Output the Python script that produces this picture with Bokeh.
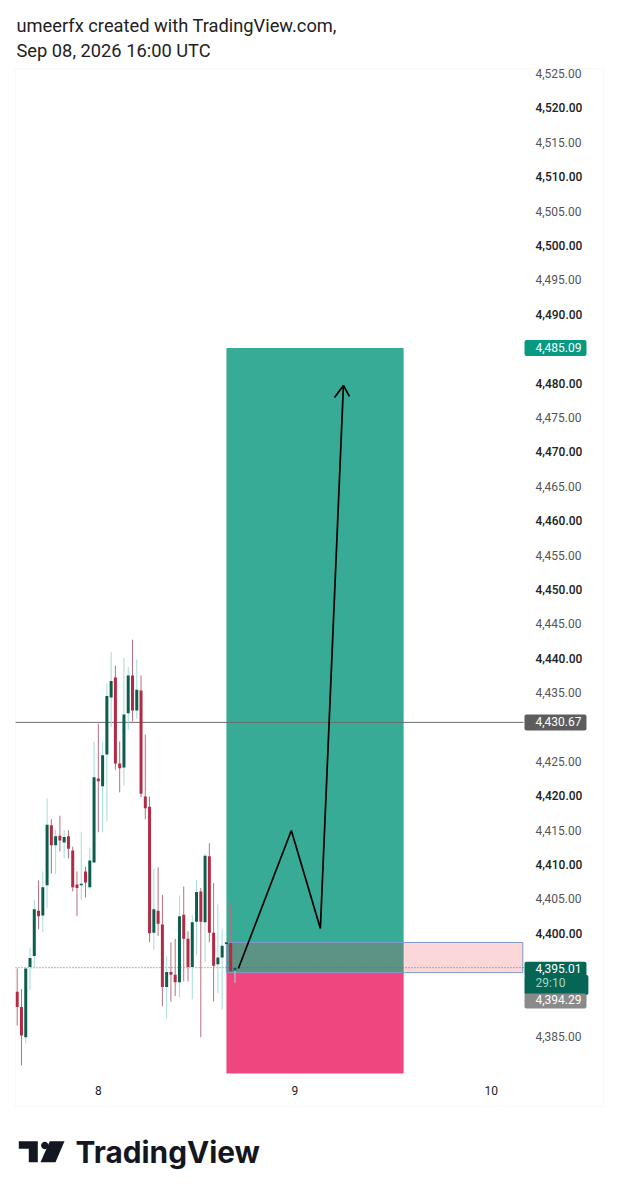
from bokeh.embed import file_html
from bokeh.models import BoxAnnotation, FixedTicker, Label, LinearAxis, NumeralTickFormatter, PolyAnnotation
from bokeh.plotting import figure
from bokeh.resources import INLINE

# 30 min candles
opens = [4391.5, 4389.3, 4384.9, 4395.1, 4396.7, 4403.3, 4402.6, 4407.0, 4415.7, 4412.8,
         4414.2, 4413.2, 4414.1, 4412.05, 4407.1, 4407.0, 4409.0, 4406.7, 4410.3, 4422.5,
         4421.4, 4426.0, 4434.3, 4437.2, 4424.7, 4424.1, 4432.0, 4437.5, 4432.4, 4435.3,
         4419.9, 4418.4, 4400.1, 4403.3, 4401.3, 4392.2, 4394.4, 4394.0, 4392.9, 4402.7,
         4399.2, 4395.1, 4401.7, 4406.1, 4401.6, 4411.2, 4400.1, 4395.5, 4396.5, 4398.4,
         4398.6, 4394.6]
highs = [4394.9, 4391.9, 4394.9, 4397.9, 4404.9, 4407.7, 4409.0, 4419.6, 4416.6, 4415.1,
         4417.1, 4415.0, 4415.0, 4412.6, 4409.0, 4414.7, 4409.7, 4412.5, 4427.9, 4430.5,
         4427.8, 4436.3, 4440.9, 4438.9, 4427.9, 4440.0, 4438.7, 4442.7, 4439.8, 4437.5,
         4428.9, 4419.9, 4409.4, 4409.6, 4405.6, 4396.7, 4398.7, 4399.2, 4405.5, 4406.8,
         4400.3, 4402.7, 4407.8, 4406.6, 4411.6, 4413.1, 4407.3, 4404.2, 4400.6, 4398.7,
         4404.2, 4395.0]
lows = [4386.6, 4380.8, 4384.0, 4391.8, 4394.9, 4400.6, 4400.2, 4403.7, 4408.7, 4408.6,
        4411.9, 4410.9, 4410.9, 4406.1, 4402.5, 4404.8, 4405.2, 4406.4, 4410.3, 4414.7,
        4414.7, 4416.3, 4430.0, 4423.8, 4420.5, 4421.5, 4429.6, 4430.8, 4431.2, 4419.8,
        4416.6, 4398.7, 4397.6, 4399.6, 4389.4, 4387.6, 4390.1, 4390.9, 4390.7, 4393.0,
        4393.0, 4390.4, 4396.9, 4384.9, 4395.8, 4398.7, 4390.1, 4391.3, 4388.9, 4398.3,
        4394.5, 4392.8]
closes = [4389.3, 4385.15, 4394.9, 4396.4, 4403.5, 4402.5, 4406.7, 4415.8, 4412.8, 4414.1,
          4413.5, 4414.0, 4412.3, 4406.7, 4406.6, 4407.2, 4407.4, 4410.6, 4422.7, 4422.1,
          4425.9, 4434.5, 4436.7, 4424.7, 4424.0, 4431.8, 4437.5, 4432.4, 4435.4, 4420.3,
          4418.2, 4400.0, 4403.5, 4401.4, 4392.2, 4394.4, 4394.0, 4392.9, 4402.5, 4399.2,
          4395.1, 4401.6, 4406.0, 4401.7, 4411.3, 4400.1, 4395.3, 4396.5, 4398.2, 4398.7,
          4394.5, 4395.01]

bold_ticks = [4520, 4510, 4500, 4490, 4480, 4470, 4460, 4450, 4440, 4420, 4410, 4400]
light_ticks = [4525, 4515, 4505, 4495, 4475, 4465, 4455, 4445, 4435, 4425, 4415, 4405, 4385]
day_ticks = [19, 65, 111]
day_labels = ["8", "9", "10"]

target_price = 4485.09
entry_price = 4394.29
stop_price = 4379.63
box_top = 4398.67
level_price = 4430.67
last_price = 4395.01
tool_left = 49.0
tool_right = 90.5
box_right = 118.4
pane_left = -0.4
pane_right = 118.57

path_x = [51.8, 64.2, 71.0, 76.4]
path_y = [4394.9, 4414.95, 4400.7, 4479.65]
head_x = [74.3, 76.4, 77.8]
head_y = [4477.9, 4479.65, 4478.05]

FONT = "Roboto"

# annotations get clipped to the frame, so the frame takes the whole page
# and the axes pull their labels back into it with a negative standoff
p = figure(width=610, height=1191, output_backend="svg", toolbar_location=None,
           x_range=(-3.911, 137.54), y_range=(4364.80, 4535.61),
           x_axis_location=None, y_axis_location=None, min_border_left=0, min_border_right=6,
           min_border_top=0, min_border_bottom=16, outline_line_color=None)
p.grid.visible = False


def setup_axis(ax, standoff, font, color):
    ax.axis_line_color = None
    ax.major_tick_line_color = None
    ax.minor_tick_line_color = None
    ax.major_tick_out = 0
    ax.major_tick_in = 0
    ax.minor_tick_out = 0
    ax.major_label_standoff = standoff
    ax.major_label_text_font = font
    ax.major_label_text_font_size = "12px"
    ax.major_label_text_color = color
    ax.major_label_text_font_style = "normal"


y_bold = LinearAxis(ticker=FixedTicker(ticks=bold_ticks), formatter=NumeralTickFormatter(format="0,0.00"))
setup_axis(y_bold, -69, "Roboto Medium", "#222222")
p.add_layout(y_bold, "right")
y_light = LinearAxis(ticker=FixedTicker(ticks=light_ticks), formatter=NumeralTickFormatter(format="0,0.00"))
setup_axis(y_light, -69, FONT, "#555555")
p.add_layout(y_light, "right")
x_days = LinearAxis(ticker=FixedTicker(ticks=day_ticks), major_label_overrides=dict(zip(day_ticks, day_labels)))
setup_axis(x_days, -90, FONT, "#222222")
p.add_layout(x_days, "below")

# position tool
p.quad(left=[tool_left], right=[tool_right], top=[target_price], bottom=[entry_price],
       color="#37ab95", line_color=None)
p.quad(left=[tool_left], right=[tool_right], top=[entry_price], bottom=[stop_price],
       color="#f04680", line_color=None)
p.quad(left=[tool_left], right=[box_right], top=[box_top], bottom=[entry_price],
       fill_color="#f23645", fill_alpha=0.2, line_color="#7f9bc9", line_width=1)

p.line([pane_left, pane_right], [level_price, level_price], color="#6b6b6b", line_width=1)
p.line([pane_left, pane_right], [last_price, last_price], color="#6b6b6b", line_width=1, line_dash="1 2")

# candles
xs = list(range(len(opens)))
up = [i for i in xs if closes[i] >= opens[i]]
down = [i for i in xs if closes[i] < opens[i]]
p.segment([xs[i] for i in up], [highs[i] for i in up], [xs[i] for i in up], [lows[i] for i in up],
          color="#a4dcd7", line_width=1)
p.segment([xs[i] for i in down], [highs[i] for i in down], [xs[i] for i in down], [lows[i] for i in down],
          color="#b5707f", line_width=1)
p.vbar([xs[i] for i in up], 0.7, [opens[i] for i in up], [closes[i] for i in up],
       color="#0b5e4d", line_color=None)
p.vbar([xs[i] for i in down], 0.7, [closes[i] for i in down], [opens[i] for i in down],
       color="#b22a43", line_color=None)

p.line(path_x, path_y, color="#000000", line_width=1.7)
p.line(head_x, head_y, color="#000000", line_width=1.7)


def tag(price, text, bg, color="#ffffff", right_pad=5, top=3, bottom=4):
    # padding is left, right, top, bottom and y is the middle of the box
    p.add_layout(Label(x=524, x_units="canvas", y=price, y_units="data", text=text,
                       text_font=FONT, text_font_size="12px", text_color=color,
                       text_baseline="middle", background_fill_color=bg,
                       padding=(11, right_pad, top, bottom), border_radius=2))


tag(target_price, f"{target_price:,.2f}", "#089981")
tag(level_price, f"{level_price:,.2f}", "#5d5d5d")
tag(4394.79, f"{last_price:,.2f}", "#056656", top=2, bottom=4)
tag(4392.5, "29:10", "#056656", "#a7d4c6", 23, 1, 5)
tag(4390.17, f"{entry_price:,.2f}", "#8a8a8a", top=2, bottom=4)

# page furniture
p.add_layout(BoxAnnotation(left=15, right=603, top=68, bottom=1106, left_units="canvas",
                           right_units="canvas", top_units="canvas", bottom_units="canvas",
                           fill_alpha=0, line_color="#ececec", line_width=1))
for text, y in [("umeerfx created with TradingView.com,", 25), ("Sep 08, 2026 16:00 UTC", 50)]:
    p.add_layout(Label(x=16, y=y, x_units="canvas", y_units="canvas", text=text, text_font=FONT,
                       text_font_size="18.3px", text_color="#222222", text_baseline="middle"))
p.add_layout(Label(x=75, y=1151, x_units="canvas", y_units="canvas", text="TradingView", text_font="Inter",
                   text_font_size="29.8px", text_font_style="bold", text_color="#131722",
                   text_baseline="middle"))
logo_parts = [
    ([18.3, 37.3, 37.3, 28.3, 28.3, 18.3], [1140.7, 1140.7, 1161.7, 1161.7, 1148.3, 1148.3]),
    ([49.3, 64, 55, 40], [1140.7, 1140.7, 1161.7, 1161.7]),
    ([44.3, 42.9, 41.7, 40.9, 40.6, 40.9, 41.7, 42.9, 44.3, 45.7, 46.9, 47.7, 48, 47.7, 46.9, 45.7],
     [1141.3, 1141.6, 1142.4, 1143.6, 1145, 1146.4, 1147.6, 1148.4, 1148.7, 1148.4, 1147.6, 1146.4, 1145, 1143.6, 1142.4, 1141.6]),
]
for lx, ly in logo_parts:
    p.add_layout(PolyAnnotation(xs=lx, ys=ly, xs_units="canvas", ys_units="canvas",
                                fill_color="#131722", fill_alpha=1, line_color=None))

open("out.html", "w").write(file_html(p, INLINE))
